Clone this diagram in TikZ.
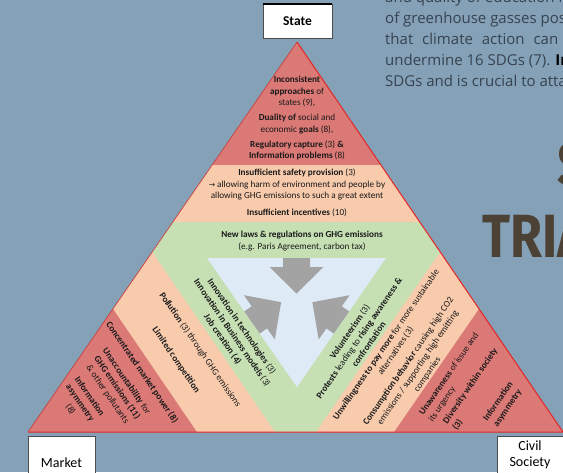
\documentclass[tikz,border=0pt]{standalone}
\usepackage{fontspec}
\setmainfont{Carlito}
\newfontfamily\symFont{DejaVu Sans}
\newfontfamily\pageFont{Open Sans}
\newfontfamily\headFont{Fira Sans}
\usetikzlibrary{calc}

\definecolor{bgBlue}{RGB}{132,161,183}
\definecolor{cornerRed}{RGB}{219,121,118}
\definecolor{bandPeach}{RGB}{248,203,173}
\definecolor{bandGreen}{RGB}{198,224,180}
\definecolor{coreBlue}{RGB}{222,235,247}
\definecolor{pushGray}{RGB}{163,163,163}
\definecolor{edgeRed}{RGB}{228,38,38}
\definecolor{pageInk}{RGB}{55,67,80}
\definecolor{headInk}{RGB}{76,65,53}

\tikzset{
  bandText/.style={font=\fontsize{9.2}{11.5}\selectfont, text=black!90, align=center, inner sep=0pt},
  sideBox/.style={draw=black!70, fill=white, thin},
  sideLabel/.style={font=\fontsize{14}{16}\selectfont, align=center, inner sep=0pt},
  pageText/.style={font=\pageFont\fontsize{15}{21}\selectfont, text=pageInk, anchor=base west, inner sep=0pt},
}

\begin{document}
\begin{tikzpicture}[x=1pt, y=-1pt]
\useasboundingbox (0,0) rectangle (563,472);
\clip (0,0) rectangle (563,472);
\fill[bgBlue] (0,0) rectangle (563,472);

% page text behind the figure
\node[pageText] (pageLineA) at (385,2) {and quality of education in};
\node[pageText] (pageLineB) at (385,23) {of greenhouse gasses pose};
\node[pageText] (pageLineC) at (385,44) {that\hspace{5pt} climate\hspace{5pt} action\hspace{5pt} can};
\node[pageText] (pageLineD) at (385,65) {undermine 16 SDGs (7). \textcolor{black}{\bfseries In}};
\node[pageText] (pageLineE) at (385,86) {SDGs and is crucial to attain};
\node[anchor=base west, inner sep=0pt, xscale=0.85, text=headInk, font=\headFont\bfseries\fontsize{61}{61}\selectfont] (headLineA) at (557,185) {S};
\node[anchor=base west, inner sep=0pt, xscale=0.85, text=headInk, font=\headFont\bfseries\fontsize{61}{61}\selectfont] (headLineB) at (482,257) {TRIA};

% outer triangle and its bands
\coordinate (apexState) at (297,42);
\coordinate (cornerMarket) at (28,432);
\coordinate (cornerCivil) at (563,432);

\fill[cornerRed] (apexState) -- (cornerMarket) -- (cornerCivil) -- cycle;
\fill[bandPeach] ($(apexState)!0.316!(cornerMarket)$) -- ($(cornerMarket)!0.316!(apexState)$)
  -- ($(cornerMarket)!0.316!(cornerCivil)$) -- ($(cornerCivil)!0.316!(cornerMarket)$)
  -- ($(cornerCivil)!0.316!(apexState)$) -- ($(apexState)!0.316!(cornerCivil)$) -- cycle;
\fill[bandGreen] ($(apexState)!0.462!(cornerMarket)$) -- ($(cornerMarket)!0.462!(apexState)$)
  -- ($(cornerMarket)!0.462!(cornerCivil)$) -- ($(cornerCivil)!0.462!(cornerMarket)$)
  -- ($(cornerCivil)!0.462!(apexState)$) -- ($(apexState)!0.462!(cornerCivil)$) -- cycle;
\draw[edgeRed!70!gray, line width=0.7pt] (apexState) -- (cornerMarket);
\draw[edgeRed, line width=1pt] (cornerMarket) -- (cornerCivil) -- (apexState);

% inner triangle with the three arrows
\coordinate (coreLeft) at (207,258);
\coordinate (coreRight) at (386,258);
\coordinate (coreBottom) at (297,387);
\fill[coreBlue] (coreLeft) -- (coreRight) -- (coreBottom) -- cycle;

\fill[pushGray, shift={($(coreLeft)!0.5!(coreRight)$)}, rotate=-90] (0,-13.5) -- (9,-13.5) -- (9,-27) -- (35.5,0) -- (9,27) -- (9,13.5) -- (0,13.5) -- cycle;
\fill[pushGray, shift={($(coreLeft)!0.5!(coreBottom)$)}, rotate=34.9] (0,-13.5) -- (9,-13.5) -- (9,-27) -- (35.5,0) -- (9,27) -- (9,13.5) -- (0,13.5) -- cycle;
\fill[pushGray, shift={($(coreRight)!0.5!(coreBottom)$)}, rotate=145.1] (0,-13.5) -- (9,-13.5) -- (9,-27) -- (35.5,0) -- (9,27) -- (9,13.5) -- (0,13.5) -- cycle;

% state side
\node[bandText] (stateIssues) at (297,118) {\textbf{Inconsistent}\\\textbf{approaches} of\\states (9),\\[3.5pt]\textbf{Duality of} social and\\economic \textbf{goals} (8),\\[3.5pt]\textbf{Regulatory capture} (3) \textbf{\&}\\\textbf{Information problems} (8)};
\node[bandText] (stateGaps) at (297,193) {\textbf{Insufficient safety provision} (3)\\{\symFont\fontsize{7.5}{9}\selectfont →} allowing harm of environment and people by\\allowing GHG emissions to such a great extent\\[5pt]\textbf{Insufficient incentives} (10)};
\node[bandText] (stateLever) at (302,241) {\textbf{New laws \& regulations on GHG emissions}\\(e.g. Paris Agreement, carbon tax)};

% market side
\node[bandText, rotate=-55.5] (marketLever) at (232,333) {\textbf{Innovation in technologies} (3)\\\textbf{Innovation in Business models} (3)\\\textbf{Job creation (4)}};
\node[bandText, rotate=-55.5] (marketHarm) at (200,350) {\textbf{Pollution} (3) through GHG emissions};
\node[bandText, rotate=-55.5] (marketGap) at (176,360) {\textbf{Limited competition}};
\node[bandText, rotate=-55.5] (marketPower) at (142,372.5) {\textbf{Concentrated market power (8)}};
\node[bandText, rotate=-55.5] (marketAccount) at (117,388) {\textbf{Unaccountability} for\\\textbf{GHG emissions (11)}\\\& other pollutants};
\node[bandText, rotate=-55.5] (marketInfo) at (80,403) {\textbf{Information}\\\textbf{asymmetry}\\(8)};

% civil society side
\node[bandText, rotate=55.5] (civilLever) at (359,338) {\textbf{Volunteerism} (3)\\\textbf{Protests} leading to \textbf{rising awareness \&}\\\textbf{confrontation}};
\node[bandText, rotate=55.5] (civilWill) at (391,348) {\textbf{Unwillingness to pay more} for more sustainable\\alternatives (3)};
\node[bandText, rotate=55.5] (civilHabit) at (418,368) {\textbf{Consumption behavior} causing high CO2\\emissions / supporting high emitting\\companies};
\node[bandText, rotate=55.5, anchor=west, align=left] (civilAware) at (426,418) {\textbf{Unawareness} of issue and\\its urgency};
\node[bandText, rotate=55.5, anchor=west, align=left] (civilDiverse) at (450,426) {\textbf{Diversity within society}\\\textbf{(3)}};
\node[bandText, rotate=55.5] (civilInfo) at (503,405) {\textbf{Information}\\\textbf{asymmetry}};

% the three actor boxes
\draw[sideBox] (263,4) rectangle (332,38);
\draw[black, line width=2pt] (263,4) -- (332,4);
\node[sideLabel, font=\bfseries\fontsize{13.5}{16}\selectfont] (stateBox) at (297.5,21) {State};
\draw[sideBox] (28,436) rectangle (95,480);
\node[sideLabel] (marketBox) at (61.5,463) {Market};
\draw[sideBox] (497,436) rectangle (570,480);
\node[sideLabel] (civilBox) at (530,455) {Civil\\Society};

\end{tikzpicture}
\end{document}
